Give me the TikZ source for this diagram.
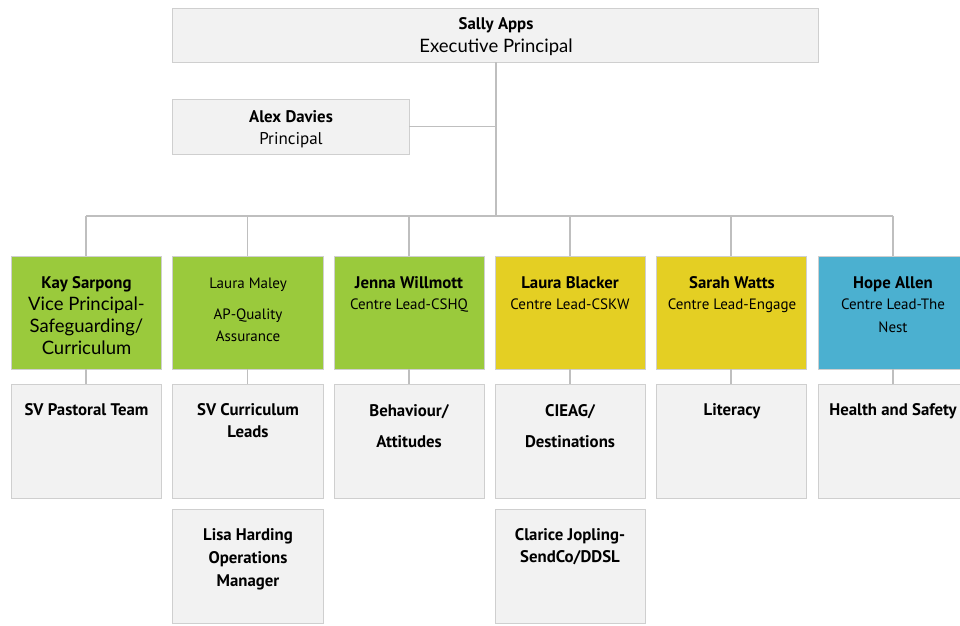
\documentclass[tikz,border=0pt]{standalone}
\usepackage{fontspec}
\setmainfont{PT Sans}
\newfontfamily\widefont{Lato}
\definecolor{boxgray}{HTML}{F2F2F2}
\definecolor{boxline}{HTML}{CFCFCF}
\definecolor{conncol}{HTML}{BFBFBF}
\definecolor{cgreen}{HTML}{9ACA3C}
\definecolor{cyellow}{HTML}{E4CF23}
\definecolor{cblue}{HTML}{4BB0D0}
\begin{document}
\begin{tikzpicture}[x=1pt,y=-1pt,
  box/.style={draw=boxline, line width=0.9pt, fill=boxgray, inner sep=0pt, minimum width=150pt, minimum height=113pt},
  gbox/.style={box, fill=cgreen},
  ybox/.style={box, fill=cyellow},
  bbox/.style={box, fill=cblue},
  conn/.style={draw=conncol, line width=1.2pt},
  tx/.style={anchor=base, inner sep=0pt, font=\fontsize{15}{18}\selectfont},
  tb/.style={tx, font=\fontsize{16.8}{18}\selectfont\bfseries},
  tw/.style={tx, font=\fontsize{18.5}{18}\selectfont\widefont},
]
\useasboundingbox (0,0) rectangle (960,625);
% boxes
\node[box, minimum width=646pt, minimum height=54pt] (sally) at (495,35) {};
\node[box, minimum width=237pt, minimum height=55pt] (alex) at (290.5,126.5) {};
\node[gbox] (c1) at (86,312.5) {};
\node[gbox, minimum width=151pt] (c2) at (247.5,312.5) {};
\node[gbox] (c3) at (409,312.5) {};
\node[ybox] (c4) at (570,312.5) {};
\node[ybox] (c5) at (731,312.5) {};
\node[bbox] (c6) at (893,312.5) {};
\node[box, minimum height=114pt] (s1) at (86,441) {};
\node[box, minimum width=151pt, minimum height=114pt] (s2) at (247.5,441) {};
\node[box, minimum height=114pt] (s3) at (409,441) {};
\node[box, minimum height=114pt] (s4) at (570,441) {};
\node[box, minimum height=114pt] (s5) at (731,441) {};
\node[box, minimum height=114pt] (s6) at (893,441) {};
\node[box, minimum width=151pt, minimum height=114pt] (r2) at (247.5,566) {};
\node[box, minimum height=114pt] (r4) at (570,566) {};
% connectors
\coordinate (bus) at (496,216);
\draw[conn] (sally.south -| bus) -- (bus);
\draw[conn] (alex.east) -- (alex.east -| bus);
\draw[conn] (c1.north |- bus) -- (c6.north |- bus);
\foreach \c in {c1,c2,c3,c4,c5,c6} { \draw[conn] (\c.north |- bus) -- (\c.north); }
\draw[conn] (c1.south) -- (s1.north);
\draw[conn] (c2.south) -- (s2.north);
\draw[conn] (c3.south) -- (s3.north);
\draw[conn] (c4.south) -- (s4.north);
\draw[conn] (c5.south) -- (s5.north);
\draw[conn] (c6.south) -- (s6.north);
% texts
\node[tb] (t0a) at (496,29) {Sally Apps};
\node[tw] (t0b) at (496,52) {Executive Principal};
\node[tb] (tAa) at (291,122) {Alex Davies};
\node[tx, font=\fontsize{17}{18}\selectfont] (tAb) at (291,144) {Principal};
\node[tb] (t1a) at (86.5,288) {Kay Sarpong};
\node[tw] (t1b) at (86.5,310) {Vice Principal-};
\node[tw] (t1c) at (86.5,332) {Safeguarding/};
\node[tw] (t1d) at (86.5,354) {Curriculum};
\node[tx] (t2a) at (248,288) {Laura Maley};
\node[tx] (t2b) at (248,319) {AP-Quality};
\node[tx] (t2c) at (248,341) {Assurance};
\node[tb] (t3a) at (409,288) {Jenna Willmott};
\node[tx] (t3b) at (409,309) {Centre Lead-CSHQ};
\node[tb] (t4a) at (570,288) {Laura Blacker};
\node[tx] (t4b) at (570,309) {Centre Lead-CSKW};
\node[tb] (t5a) at (732,288) {Sarah Watts};
\node[tx] (t5b) at (732,309) {Centre Lead-Engage};
\node[tb] (t6a) at (893,288) {Hope Allen};
\node[tx] (t6b) at (893,309) {Centre Lead-The};
\node[tx] (t6c) at (893,332) {Nest};
\node[tb] (u1a) at (86.5,415) {SV Pastoral Team};
\node[tb] (u2a) at (248,415) {SV Curriculum};
\node[tb] (u2b) at (248,437) {Leads};
\node[tb] (u3a) at (409,416) {Behaviour/};
\node[tb] (u3b) at (409,447) {Attitudes};
\node[tb] (u4a) at (570,416) {CIEAG/};
\node[tb] (u4b) at (570,447) {Destinations};
\node[tb] (u5a) at (732,415) {Literacy};
\node[tb] (u6a) at (893,415) {Health and Safety};
\node[tb] (v2a) at (248,540) {Lisa Harding};
\node[tb] (v2b) at (248,563) {Operations};
\node[tb] (v2c) at (248,586) {Manager};
\node[tb] (v4a) at (570,540) {Clarice Jopling-};
\node[tb] (v4b) at (570,562) {SendCo/DDSL};
\end{tikzpicture}
\end{document}
